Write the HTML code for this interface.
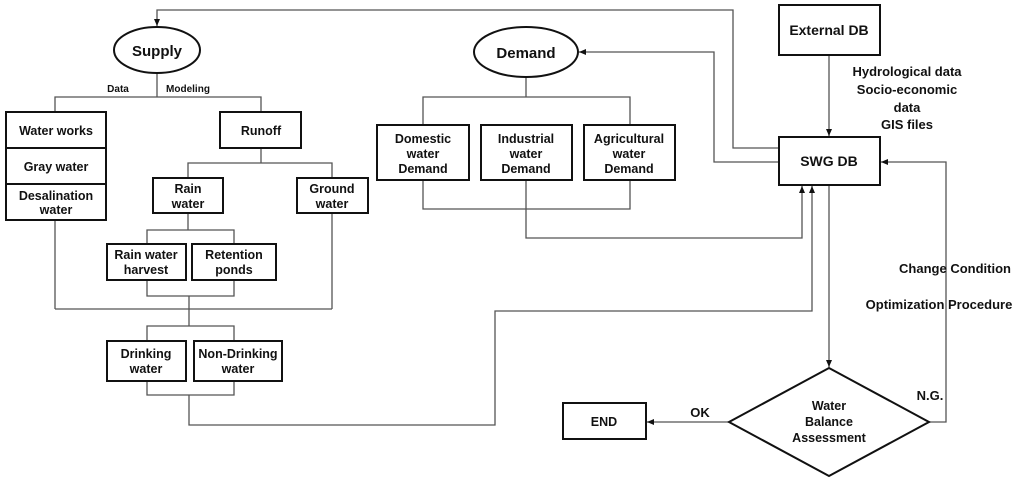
<!DOCTYPE html>
<html><head><meta charset="utf-8"><style>
html,body{margin:0;padding:0;background:#fff;}
svg{display:block;}
text{font-family:"Liberation Sans","DejaVu Sans",sans-serif;font-weight:bold;fill:#111;text-anchor:middle;}
</style></head><body>
<svg width="1024" height="484" viewBox="0 0 1024 484" xmlns="http://www.w3.org/2000/svg">
<defs><marker id="a" markerWidth="8" markerHeight="8" refX="7" refY="4" orient="auto" markerUnits="userSpaceOnUse"><path d="M0,1 L7,4 L0,7 z" fill="#111"/></marker></defs>
<g fill="none" stroke="#555" stroke-width="1.3">
<!-- top feedback to supply -->
<polyline points="780,148 733,148 733,10 157,10 157,26" marker-end="url(#a)"/>
<!-- supply tree -->
<line x1="157" y1="72" x2="157" y2="97"/>
<polyline points="55,112 55,97 261,97 261,112"/>
<line x1="261" y1="148" x2="261" y2="163"/>
<polyline points="188,178 188,163 332,163 332,178"/>
<line x1="188" y1="213" x2="188" y2="230"/>
<polyline points="147,244 147,230 234,230 234,244"/>
<polyline points="147,280 147,296 234,296 234,280"/>
<line x1="55" y1="220" x2="55" y2="309"/>
<line x1="332" y1="213" x2="332" y2="309"/>
<line x1="55" y1="309" x2="332" y2="309"/>
<line x1="189" y1="296" x2="189" y2="326"/>
<polyline points="147,341 147,326 234,326 234,341"/>
<polyline points="147,381 147,395 234,395 234,381"/>
<polyline points="189,395 189,425 495,425 495,311 812,311 812,186" marker-end="url(#a)"/>
<!-- demand -->
<polyline points="780,162 714,162 714,52 579,52" marker-end="url(#a)"/>
<line x1="526" y1="77" x2="526" y2="97"/>
<polyline points="423,125 423,97 630,97 630,125"/>
<polyline points="423,180 423,209 630,209 630,180"/>
<polyline points="526,180 526,238 802,238 802,186" marker-end="url(#a)"/>
<!-- external -->
<line x1="829" y1="55" x2="829" y2="136" marker-end="url(#a)"/>
<line x1="829" y1="185" x2="829" y2="367" marker-end="url(#a)"/>
<line x1="729" y1="422" x2="647" y2="422" marker-end="url(#a)"/>
<polyline points="929,422 946,422 946,162 881,162" marker-end="url(#a)"/>
</g>
<g fill="#fff" stroke="#111" stroke-width="2">
<ellipse cx="157" cy="50" rx="43" ry="23"/>
<ellipse cx="526" cy="52" rx="52" ry="25"/>
<rect x="6" y="112" width="100" height="36"/>
<rect x="6" y="148" width="100" height="36"/>
<rect x="6" y="184" width="100" height="36"/>
<rect x="220" y="112" width="81" height="36"/>
<rect x="153" y="178" width="70" height="35"/>
<rect x="297" y="178" width="71" height="35"/>
<rect x="107" y="244" width="79" height="36"/>
<rect x="192" y="244" width="84" height="36"/>
<rect x="107" y="341" width="79" height="40"/>
<rect x="194" y="341" width="88" height="40"/>
<rect x="377" y="125" width="92" height="55"/>
<rect x="481" y="125" width="91" height="55"/>
<rect x="584" y="125" width="91" height="55"/>
<rect x="779" y="5" width="101" height="50"/>
<rect x="779" y="137" width="101" height="48"/>
<rect x="563" y="403" width="83" height="36"/>
<polygon points="829,368 929,422 829,476 729,422"/>
</g>
<g font-size="15"><text x="157" y="56">Supply</text><text x="526" y="58">Demand</text></g>
<g font-size="10"><text x="118" y="92">Data</text><text x="188" y="92">Modeling</text></g>
<g font-size="12.5">
<text x="56" y="135">Water works</text>
<text x="56" y="171">Gray water</text>
<text x="56" y="200">Desalination</text><text x="56" y="214">water</text>
<text x="261" y="135">Runoff</text>
<text x="188" y="193">Rain</text><text x="188" y="208">water</text>
<text x="332" y="193">Ground</text><text x="332" y="208">water</text>
<text x="146" y="259">Rain water</text><text x="146" y="274">harvest</text>
<text x="234" y="259">Retention</text><text x="234" y="274">ponds</text>
<text x="146" y="358">Drinking</text><text x="146" y="373">water</text>
<text x="238" y="358">Non-Drinking</text><text x="238" y="373">water</text>
<text x="423" y="143">Domestic</text><text x="423" y="158">water</text><text x="423" y="173">Demand</text>
<text x="526" y="143">Industrial</text><text x="526" y="158">water</text><text x="526" y="173">Demand</text>
<text x="629" y="143">Agricultural</text><text x="629" y="158">water</text><text x="629" y="173">Demand</text>
<text x="829" y="35" font-size="14">External DB</text>
<text x="829" y="166" font-size="14">SWG DB</text>
<text x="604" y="426">END</text>
<text x="829" y="410">Water</text><text x="829" y="426">Balance</text><text x="829" y="442">Assessment</text>
</g>
<g font-size="13">
<text x="907" y="76">Hydrological data</text>
<text x="907" y="94">Socio-economic</text>
<text x="907" y="112">data</text>
<text x="907" y="129">GIS files</text>
<text x="955" y="273">Change Condition</text>
<text x="939" y="309">Optimization Procedure</text>
<text x="700" y="417">OK</text>
<text x="930" y="400">N.G.</text>
</g>
</svg>
</body></html>
